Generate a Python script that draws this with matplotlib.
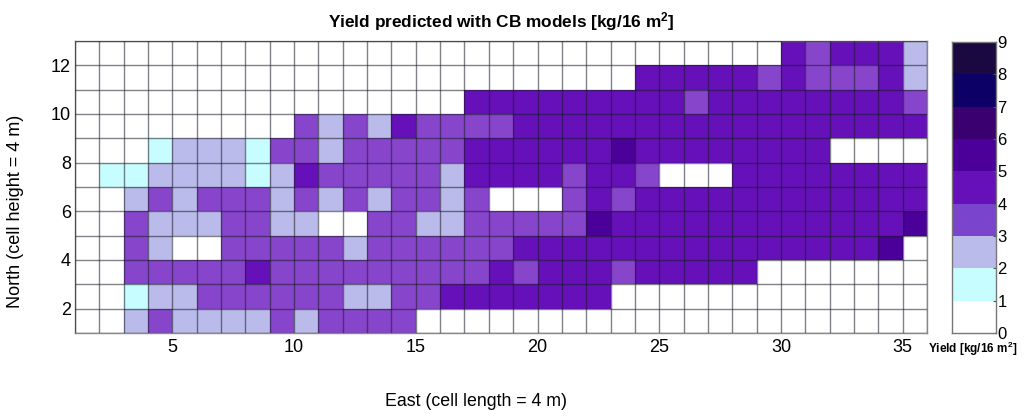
import numpy as np
import matplotlib
matplotlib.use("Agg")
import matplotlib.pyplot as plt
from matplotlib.colors import ListedColormap, BoundaryNorm

plt.rcParams['font.family'] = ['Liberation Sans', 'DejaVu Sans']
plt.rcParams['mathtext.fontset'] = 'custom'
plt.rcParams['mathtext.rm'] = 'Liberation Sans'
plt.rcParams['mathtext.bf'] = 'Liberation Sans:bold'

# Yield class per cell, columns East 1..35 (value = class midpoint, kg/16 m2)
row_12 = [0]*29 + [4, 3, 4, 4, 4, 2]
row_11 = [0]*23 + [4, 4, 4, 4, 4, 3, 4, 3, 3, 3, 4, 2]
row_10 = [0]*16 + [4]*9 + [3] + [4]*8 + [3]
row_9 = [0]*9 + [3, 2, 3, 2, 4, 3, 3, 3, 3] + [4]*17
row_8 = [0, 0, 0, 1, 2, 2, 2, 1, 3, 3, 2, 3, 3, 3, 3, 3, 4, 4, 4, 4, 4, 4, 5,
         4, 4, 4, 4, 4, 4, 4, 4, 0, 0, 0, 0]
row_7 = [0, 1, 1, 2, 2, 2, 2, 1, 2, 4, 3, 3, 3, 3, 3, 2, 4, 4, 4, 4, 3, 4, 4,
         3, 0, 0, 0, 4, 4, 4, 4, 4, 4, 4, 4]
row_6 = [0, 0, 2, 3, 2, 3, 3, 3, 2, 3, 2, 3, 2, 3, 3, 2, 3, 0, 0, 0, 3, 4, 3,
         4, 4, 4, 4, 4, 4, 4, 4, 4, 4, 4, 4]
row_5 = [0, 0, 3, 2, 2, 2, 3, 3, 2, 2, 0, 0, 3, 3, 2, 2, 3, 3, 3, 3, 3, 5, 4,
         4, 4, 4, 4, 4, 4, 4, 4, 4, 4, 4, 5]
row_4 = [0, 0, 3, 2, 0, 0, 3, 3, 3, 3, 3, 2, 3, 3, 3, 3, 3, 3, 4, 4, 4, 4, 4,
         4, 4, 4, 4, 4, 4, 4, 4, 4, 4, 5, 0]
row_3 = [0, 0, 3, 3, 3, 3, 3, 4, 3, 3, 3, 3, 3, 3, 3, 3, 3, 4, 3, 4, 4, 4, 3,
         4, 4, 4, 4, 4, 0, 0, 0, 0, 0, 0, 0]
row_2 = [0, 0, 1, 2, 2, 3, 3, 3, 3, 3, 3, 2, 2, 3, 3, 4, 4, 4, 4, 4, 4, 4, 0,
         0, 0, 0, 0, 0, 0, 0, 0, 0, 0, 0, 0]
row_1 = [0, 0, 2, 3, 2, 2, 2, 2, 3, 2, 3, 3, 3, 3, 0, 0, 0, 0, 0, 0, 0, 0, 0,
         0, 0, 0, 0, 0, 0, 0, 0, 0, 0, 0, 0]

rows = [row_1, row_2, row_3, row_4, row_5, row_6, row_7, row_8, row_9,
        row_10, row_11, row_12]

x_ticks = [5, 10, 15, 20, 25, 30, 35]
y_ticks = [2, 4, 6, 8, 10, 12]
levels = [0, 1, 2, 3, 4, 5, 6, 7, 8, 9]
colors = ['#FFFFFF', '#C8FDFF', '#BABAEB', '#8745CC', '#6510B8',
          '#4A0099', '#3A0070', '#0C0066', '#1A0840']
cbar_colors = ['#FFFFFF', '#C8FDFF', '#BABAEB', '#7A45CC', '#6510B8',
               '#4A0099', '#3A0070', '#0C0066', '#1A0840']

W, H = 1024, 420
fig = plt.figure(figsize=(W/100, H/100), dpi=100, facecolor='white')

def rect(l, t, r, b):
    return [l/W, 1-b/H, (r-l)/W, (b-t)/H]

cmap = ListedColormap(colors)
norm = BoundaryNorm(levels, cmap.N)
z = np.array(rows, dtype=float) + 0.5

ax = fig.add_axes(rect(75, 41, 927, 333))
xe = np.arange(1, z.shape[1]+2)
ye = np.arange(1, z.shape[0]+2)
ax.pcolormesh(xe, ye, z, cmap=cmap, norm=norm, edgecolors='none')
line_kw = dict(colors='#1a1a26', alpha=0.55, linewidth=1.0, zorder=3)
ax.vlines(xe, ye[0], ye[-1], **line_kw)
ax.hlines(ye, xe[0], xe[-1], **line_kw)
ax.set_xlim(1, 36)
ax.set_ylim(1, 13)
ax.set_xticks(x_ticks)
ax.set_yticks(y_ticks)
ax.tick_params(axis='x', length=0, labelsize=13, pad=4)
ax.tick_params(axis='y', length=0, labelsize=13, pad=3)
for s in ax.spines.values():
    s.set_color('#888888')
    s.set_linewidth(1)

fig.text(501/W, 1-22/H, 'Yield predicted with CB models [kg/16 m$\\mathbf{^2}$]',
         ha='center', va='center', fontsize=12.4, fontweight='bold')
fig.text(476/W, 1-401/H, 'East (cell length = 4 m)', ha='center', va='center', fontsize=12.8)
fig.text(16/W, 1-211/H, 'North (cell height = 4 m)', ha='center', va='center',
         rotation=90, fontsize=13)

cax = fig.add_axes(rect(952, 42, 996, 333))
cbar_z = np.array(levels[:-1], dtype=float).reshape(-1, 1) + 0.5
cax.pcolormesh([0, 1], levels, cbar_z, cmap=ListedColormap(cbar_colors), norm=norm)
cax.set_xlim(0, 1)
cax.set_ylim(0, 9)
cax.set_xticks([])
cax.yaxis.tick_right()
cax.set_yticks(levels)
cax.tick_params(axis='y', direction='in', length=2.5, width=0.8, labelsize=12, pad=1,
                color='#555555')
for s in cax.spines.values():
    s.set_color('#777777')
    s.set_linewidth(1)

fig.text(973/W, 1-349/H, 'Yield [kg/16 m$\\mathbf{^2}$]', ha='center', va='center',
         fontsize=8.5, fontweight='bold')

fig.savefig('out.png', dpi=100)
